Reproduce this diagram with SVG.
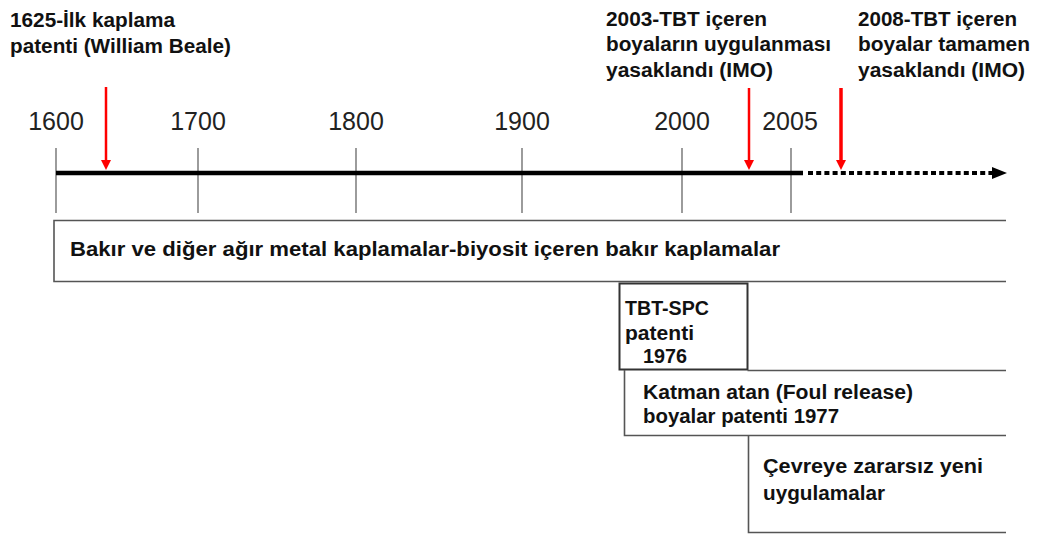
<svg xmlns="http://www.w3.org/2000/svg" width="1037" height="534" viewBox="0 0 1037 534">
<defs>
<style>
.lbl{font-family:"Liberation Sans",Arial,sans-serif;font-weight:bold;font-size:20px;fill:#111}
.yr{font-family:"Liberation Sans",Arial,sans-serif;font-size:25px;fill:#222;text-anchor:middle}
.tick{stroke:#666;stroke-width:1.3}
.edge{stroke:#555;stroke-width:1.6;fill:none}
.red{stroke:#ff0000;stroke-width:2.5}
</style>
</defs>
<rect width="1037" height="534" fill="#fff"/>
<g id="axis">
<line class="tick" x1="56" y1="148" x2="56" y2="213"/>
<line class="tick" x1="198" y1="148" x2="198" y2="213"/>
<line class="tick" x1="356" y1="148" x2="356" y2="213"/>
<line class="tick" x1="522" y1="148" x2="522" y2="213"/>
<line class="tick" x1="682" y1="148" x2="682" y2="213"/>
<line class="tick" x1="791" y1="148" x2="791" y2="213"/>
<text class="yr" x="56" y="130">1600</text>
<text class="yr" x="198" y="130">1700</text>
<text class="yr" x="356" y="130">1800</text>
<text class="yr" x="522" y="130">1900</text>
<text class="yr" x="682" y="130">2000</text>
<text class="yr" x="790" y="130">2005</text>
</g>
<g id="connectors">
<line x1="56" y1="173" x2="803" y2="173" stroke="#000" stroke-width="4.5"/>
<line x1="808" y1="173" x2="994" y2="173" stroke="#000" stroke-width="4" stroke-dasharray="5,3.2"/>
<path d="M992,167 L1007,173 L992,179 Z" fill="#000"/>
<line x1="106" y1="87" x2="106" y2="162" class="red"/>
<path d="M101,160 L111,160 L106,170 Z" fill="#ff0000"/>
<line x1="749" y1="88" x2="749" y2="162" class="red"/>
<path d="M744,160 L754,160 L749,170 Z" fill="#ff0000"/>
<line x1="841" y1="88" x2="841" y2="162" stroke="#ff0000" stroke-width="3.5"/>
<path d="M836,160 L846,160 L841,170 Z" fill="#ff0000"/>
</g>
<g id="note1625">
<text class="lbl" x="10" y="27" textLength="165" lengthAdjust="spacingAndGlyphs">1625-İlk kaplama</text>
<text class="lbl" x="10" y="53" textLength="221" lengthAdjust="spacingAndGlyphs">patenti (William Beale)</text>
</g>
<g id="note2003">
<text class="lbl" x="606" y="26" textLength="161" lengthAdjust="spacingAndGlyphs">2003-TBT içeren</text>
<text class="lbl" x="606" y="51" textLength="225" lengthAdjust="spacingAndGlyphs">boyaların uygulanması</text>
<text class="lbl" x="606" y="77" textLength="167" lengthAdjust="spacingAndGlyphs">yasaklandı (IMO)</text>
</g>
<g id="note2008">
<text class="lbl" x="858" y="26" textLength="159" lengthAdjust="spacingAndGlyphs">2008-TBT içeren</text>
<text class="lbl" x="858" y="51" textLength="172" lengthAdjust="spacingAndGlyphs">boyalar tamamen</text>
<text class="lbl" x="858" y="77" textLength="167" lengthAdjust="spacingAndGlyphs">yasaklandı (IMO)</text>
</g>
<g id="bakir">
<path class="edge" d="M1006,220.5 H54 V281.5 H1006"/>
<text class="lbl" x="70" y="256" textLength="710" lengthAdjust="spacingAndGlyphs">Bakır ve diğer ağır metal kaplamalar-biyosit içeren bakır kaplamalar</text>
</g>
<g id="tbtspc">
<rect x="619.5" y="283.5" width="128" height="86" fill="#fff" stroke="#333" stroke-width="2"/>
<text class="lbl" x="625" y="315" textLength="84" lengthAdjust="spacingAndGlyphs">TBT-SPC</text>
<text class="lbl" x="625" y="340" textLength="69" lengthAdjust="spacingAndGlyphs">patenti</text>
<text class="lbl" x="643" y="363" textLength="44" lengthAdjust="spacingAndGlyphs">1976</text>
</g>
<g id="katman">
<path class="edge" d="M747.5,370.5 H1006 M624.5,370 V435.5 H1006"/>
<text class="lbl" x="643" y="399" textLength="270" lengthAdjust="spacingAndGlyphs">Katman atan (Foul release)</text>
<text class="lbl" x="643" y="423" textLength="196" lengthAdjust="spacingAndGlyphs">boyalar patenti 1977</text>
</g>
<g id="cevre">
<path class="edge" d="M748.5,436 V532.5 H1006"/>
<text class="lbl" x="763" y="473" textLength="220" lengthAdjust="spacingAndGlyphs">Çevreye zararsız yeni</text>
<text class="lbl" x="763" y="500" textLength="122" lengthAdjust="spacingAndGlyphs">uygulamalar</text>
</g>
</svg>
